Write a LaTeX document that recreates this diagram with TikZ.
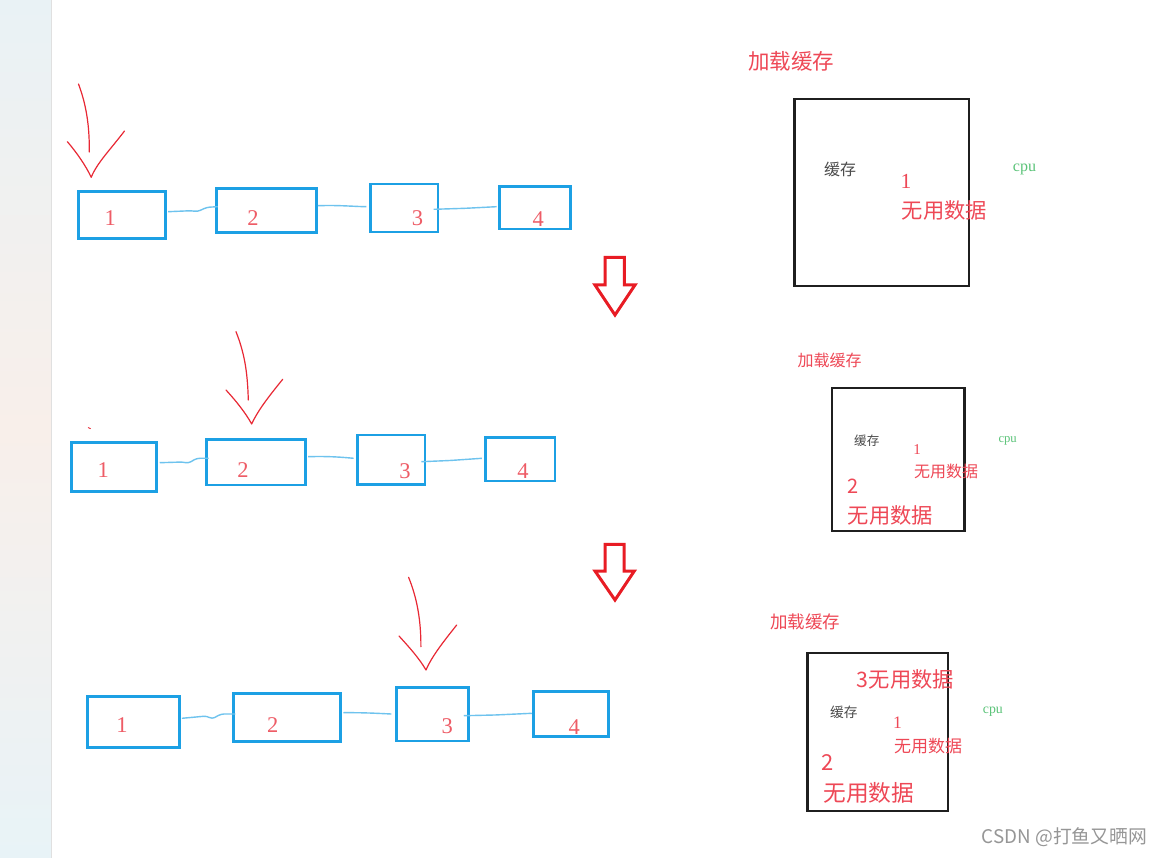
\documentclass[tikz,border=0pt]{standalone}
\usepackage{fontspec}
\setmainfont{Liberation Serif}
\newfontfamily\cjk{Noto Sans CJK SC}
\usetikzlibrary{calc}
\definecolor{boxblue}{RGB}{28,160,228}
\definecolor{linkblue}{RGB}{110,195,238}
\definecolor{handred}{RGB}{232,40,52}
\definecolor{txtred}{RGB}{238,72,86}
\definecolor{digred}{RGB}{238,92,102}
\definecolor{bigred}{RGB}{232,28,36}
\definecolor{cpugreen}{RGB}{90,195,120}
\definecolor{cachegray}{RGB}{75,75,75}
\definecolor{wmgray}{RGB}{150,150,150}
\definecolor{stripA}{RGB}{233,242,245}
\definecolor{stripB}{RGB}{248,239,234}
\definecolor{stripC}{RGB}{232,243,247}
\tikzset{
  listbox/.style={draw=boxblue, line width=2.9pt, inner sep=0pt},
  boxdigit/.style={text=digred, inner sep=0pt, font=\fontsize{22.5}{22.5}\selectfont},
  link/.style={draw=linkblue, line width=1.4pt, rounded corners=3pt},
  hand/.style={draw=handred, line width=1.2pt, line cap=round, line join=round},
  bigarrow/.style={draw=bigred, line width=3pt, line join=miter},
  cachebox/.style={draw=black!88, line width=2.4pt, inner sep=0pt},
  cjktxt/.style={inner sep=0pt, anchor=west},
  cputxt/.style={text=cpugreen, inner sep=0pt, anchor=base west},
}
\begin{document}
\begin{tikzpicture}[x=1pt,y=-1pt]
\useasboundingbox (0,0) rectangle (1165,858);
\fill[white] (0,0) rectangle (1165,858);
% left strip
\shade[top color=stripA, bottom color=stripC, middle color=stripB] (0,0) rectangle (51,858);
\draw[color=black!12, line width=1.2pt] (51.5,0) -- (51.5,858);

% ---------- row 1 ----------
\node[listbox, minimum width=87pt, minimum height=46.6pt] (r1b1) at (122,215) {};
\node[listbox, minimum width=100pt, minimum height=44.4pt] (r1b2) at (266.5,210.5) {};
\node[listbox, minimum width=67.5pt, minimum height=48pt] (r1b3) at (404.25,208) {};
\node[listbox, minimum width=71.7pt, minimum height=42.3pt] (r1b4) at (535.05,207.85) {};
\node[boxdigit] (r1l1) at (110.3,218.3) {1};
\node[boxdigit] (r1l2) at (253,218.3) {2};
\node[boxdigit] (r1l3) at (417.6,218.3) {3};
\node[boxdigit] (r1l4) at (538.3,219.3) {4};
\draw[link] ([xshift=1.2pt,yshift=3.3pt]r1b1.east) -- (191.6,210.7) -- (197.3,211.7) -- (206.9,207.3) -- ([xshift=2.7pt,yshift=3.8pt]r1b2.west);
\draw[link] ([yshift=4.8pt]r1b2.east) .. controls (340,205) and (352,206.5) .. ([xshift=-2.7pt,yshift=1.3pt]r1b3.west);
\draw[link] ([xshift=-5.8pt,yshift=-1.3pt]r1b3.east) -- (465.5,208.3) -- ([xshift=-1.2pt,yshift=1.15pt]r1b4.west);
% hand arrow 1
\draw[hand] (78.5,84) .. controls (86,104) and (89.6,125) .. (89.3,152);
\draw[hand] (67.4,141.7) .. controls (77,153) and (86,166) .. (91.2,177.3) .. controls (97,163) and (110,150) .. (124.5,131);

% ---------- row 2 ----------
\node[listbox, minimum width=85pt, minimum height=49pt] (r2b1) at (114.2,467.2) {};
\node[listbox, minimum width=99pt, minimum height=45.7pt] (r2b2) at (256.2,462.15) {};
\node[listbox, minimum width=67.3pt, minimum height=49.3pt] (r2b3) at (391.35,459.65) {};
\node[listbox, minimum width=69.3pt, minimum height=43.7pt] (r2b4) at (520.35,459.15) {};
\node[boxdigit] (r2l1) at (103.3,470) {1};
\node[boxdigit] (r2l2) at (243,470) {2};
\node[boxdigit] (r2l3) at (405,470.7) {3};
\node[boxdigit] (r2l4) at (523,470.7) {4};
\draw[link] ([xshift=1.6pt,yshift=4.5pt]r2b1.east) -- (183,462) -- (188.3,463.3) -- (196.7,458.3) -- ([xshift=3.3pt,yshift=3.85pt]r2b2.west);
\draw[link] ([xshift=1pt,yshift=5.45pt]r2b2.east) .. controls (330,456) and (345,457.5) .. ([xshift=-2.7pt,yshift=1.35pt]r2b3.west);
\draw[link] ([xshift=-5pt,yshift=-2.05pt]r2b3.east) -- (450,460.5) -- ([xshift=-2.4pt,yshift=0.85pt]r2b4.west);
\draw[hand] (236,331.7) .. controls (244,352) and (247.5,370) .. (248.3,400);
\draw[hand] (226,390) .. controls (236,401) and (245,412) .. (251.7,424) .. controls (258,410) and (270,395) .. (282.7,379.3);
\draw[hand, line width=0.9pt] (88.3,427.6) -- (90.4,428.6);

% ---------- row 3 ----------
\node[listbox, minimum width=92pt, minimum height=51pt] (r3b1) at (133.5,722.2) {};
\node[listbox, minimum width=107pt, minimum height=48.4pt] (r3b2) at (286.7,717.5) {};
\node[listbox, minimum width=71.9pt, minimum height=53.7pt] (r3b3) at (432.25,714.15) {};
\node[listbox, minimum width=75.4pt, minimum height=45pt] (r3b4) at (570.9,714.2) {};
\node[boxdigit] (r3l1) at (122,725) {1};
\node[boxdigit] (r3l2) at (272.8,725) {2};
\node[boxdigit] (r3l3) at (447.2,726) {3};
\node[boxdigit] (r3l4) at (574.2,726.7) {4};
\draw[link] ([xshift=1pt,yshift=3.9pt]r3b1.east) -- (206.8,716) -- (212,719) -- (221,714) -- ([xshift=3.5pt,yshift=3.5pt]r3b2.west);
\draw[link] ([xshift=1.8pt,yshift=4.8pt]r3b2.east) .. controls (365,712.5) and (380,713.5) .. ([xshift=-3.5pt,yshift=0.15pt]r3b3.west);
\draw[link] ([xshift=-5.9pt,yshift=-1.55pt]r3b3.east) -- (495,715) -- ([yshift=0.9pt]r3b4.west);
\draw[hand] (408.6,577.3) .. controls (417,598) and (421,620) .. (420.9,646.7);
\draw[hand] (399,636) .. controls (409,647) and (419,658) .. (426,670) .. controls (432,656) and (444,641) .. (456.7,625);

% ---------- big hollow arrows ----------
\draw[bigarrow] (605,257.3) -- (624.3,257.3) -- (624.3,285) -- (635,285) -- (615,315) -- (595,285) -- (605,285) -- cycle;
\draw[bigarrow] (605,544.3) -- (624,544.3) -- (624,571) -- (634.3,571) -- (615,600) -- (595,571) -- (605,571) -- cycle;

% ---------- panel 1 ----------
\node[cjktxt, text=txtred, font=\cjk\fontsize{21.5}{21.5}\selectfont] (p1title) at (748,61.7) {加载缓存};
\node[cachebox, minimum width=174.4pt, minimum height=186.7pt] (p1box) at (881.5,192.65) {};
\node[cjktxt, text=cachegray, font=\cjk\fontsize{16}{16}\selectfont] (p1cache) at (824,169.3) {缓存};
\node[text=txtred, inner sep=0pt, font=\fontsize{21.5}{21.5}\selectfont] (p1n1) at (906,181.7) {1};
\node[cjktxt, text=txtred, font=\cjk\fontsize{21.3}{21.3}\selectfont] (p1d1) at (901.7,210) {无用数据};
\node[cputxt, font=\fontsize{16}{16}\selectfont] (p1cpu) at (1012.7,171.3) {cpu};

% ---------- panel 2 ----------
\node[cjktxt, text=txtred, font=\cjk\fontsize{16}{16}\selectfont] (p2title) at (797.3,360) {加载缓存};
\node[cachebox, minimum width=132.6pt, minimum height=142.4pt] (p2box) at (898,459.5) {};
\node[cjktxt, text=cachegray, font=\cjk\fontsize{12.6}{12.6}\selectfont] (p2cache) at (854,441) {缓存};
\node[text=txtred, inner sep=0pt, font=\fontsize{15}{15}\selectfont] (p2n1) at (917,450) {1};
\node[cjktxt, text=txtred, font=\cjk\fontsize{16}{16}\selectfont] (p2d1) at (914,471.7) {无用数据};
\node[text=txtred, inner sep=0pt, font=\cjk\fontsize{20}{20}\selectfont] (p2n2) at (852.8,486.7) {2};
\node[cjktxt, text=txtred, font=\cjk\fontsize{21.3}{21.3}\selectfont] (p2d2) at (847.7,515) {无用数据};
\node[cputxt, font=\fontsize{12.7}{12.7}\selectfont] (p2cpu) at (998.3,442.6) {cpu};

% ---------- panel 3 ----------
\node[cjktxt, text=txtred, font=\cjk\fontsize{17.5}{17.5}\selectfont] (p3title) at (770,621.7) {加载缓存};
\node[cachebox, minimum width=140.4pt, minimum height=158.3pt] (p3box) at (877.5,731.85) {};
\node[cjktxt, text=txtred, font=\cjk\fontsize{21.3}{21.3}\selectfont] (p3d3) at (856.7,679.3) {3无用数据};
\node[cjktxt, text=cachegray, font=\cjk\fontsize{13.7}{13.7}\selectfont] (p3cache) at (830,712.7) {缓存};
\node[text=txtred, inner sep=0pt, font=\fontsize{17.5}{17.5}\selectfont] (p3n1) at (897.5,722.7) {1};
\node[cjktxt, text=txtred, font=\cjk\fontsize{17}{17}\selectfont] (p3d1) at (894,746) {无用数据};
\node[text=txtred, inner sep=0pt, font=\cjk\fontsize{22}{22}\selectfont] (p3n2) at (828,762.7) {2};
\node[cjktxt, text=txtred, font=\cjk\fontsize{22.7}{22.7}\selectfont] (p3d2) at (823.3,793.3) {无用数据};
\node[cputxt, font=\fontsize{13.8}{13.8}\selectfont] (p3cpu) at (982.7,713.4) {cpu};

% ---------- watermark ----------
\node[cjktxt, text=wmgray, font=\cjk\fontsize{18.8}{18.8}\selectfont] (wm) at (981.7,836.7) {CSDN @打鱼又晒网};
\end{tikzpicture}
\end{document}
